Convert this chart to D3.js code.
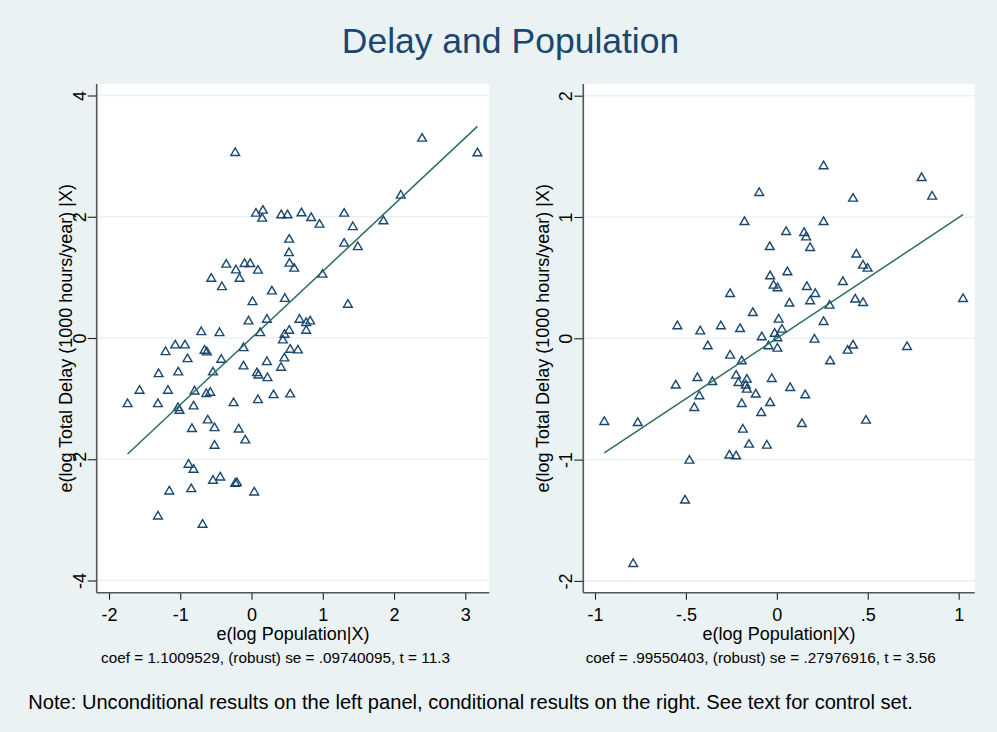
<!DOCTYPE html>
<html>
<head>
<meta charset="utf-8">
<script src="https://cdn.jsdelivr.net/npm/d3@7"></script>
<style>
  body { margin: 0; background: #eaf2f3; }
  svg text { font-family: "Liberation Sans", Arial, Helvetica, sans-serif; }
</style>
</head>
<body>
<svg id="chart" width="997" height="732"></svg>
<script>
// ---- Data: added-variable residuals, unconditional (left) and conditional (right) ----
const leftX = [
  -0.229, 0.062, 0.160, 0.150, 0.417, 0.505, 0.529, 0.526, 2.394, 3.170,
  2.095, 1.851, 0.701, 0.837, 0.954, 1.300, 1.422, 1.300, 1.492, -0.355,
  -0.219, -0.098, -0.018, 0.090, -0.565, -0.168, -0.415, 0.286, 0.014, 0.468,
  -0.042, 0.216, -0.705, -0.449, 0.122, 0.463, 0.440, -1.070, -0.934, -1.206,
  -0.112, -0.659, -0.626, -0.898, -0.425, 0.216, 0.461, -0.112, 0.414, -1.304,
  -1.028, -0.541, 0.076, 0.098, 0.224, -1.571, -1.173, -0.799, -0.635, -0.579,
  0.309, 0.543, -1.739, -1.313, -1.032, -1.010, -0.813, -0.252, 0.090, -0.614,
  -0.836, -0.519, -0.180, -0.088, -0.519, -0.884, -0.813, -1.154, -0.846, -0.541,
  -0.439, -0.229, -0.205, 0.038, -1.313, -0.687, 0.533, 0.599, 0.996, 1.352,
  0.673, 0.767, 0.823, 0.767, 0.529, 0.543, 0.651
];
const leftY = [
  3.073, 2.073, 2.122, 1.990, 2.045, 2.045, 1.644, 1.422, 3.310, 3.068,
  2.370, 1.946, 2.078, 2.000, 1.891, 2.073, 1.851, 1.578, 1.521, 1.231,
  1.137, 1.241, 1.241, 1.132, 1.000, 1.000, 0.861, 0.790, 0.614, 0.667,
  0.295, 0.323, 0.119, 0.102, 0.102, 0.076, -0.018, -0.101, -0.101, -0.211,
  -0.145, -0.188, -0.216, -0.327, -0.337, -0.376, -0.315, -0.447, -0.469, -0.574,
  -0.546, -0.546, -0.558, -0.596, -0.640, -0.848, -0.848, -0.860, -0.904, -0.881,
  -0.921, -0.909, -1.069, -1.069, -1.135, -1.178, -1.107, -1.053, -1.003, -1.338,
  -1.479, -1.465, -1.487, -1.668, -1.756, -2.069, -2.152, -2.510, -2.472, -2.333,
  -2.279, -2.383, -2.373, -2.526, -2.922, -3.059, 1.248, 1.165, 1.066, 0.571,
  0.323, 0.267, 0.295, 0.142, 0.142, -0.172, -0.183
];
const rightX = [
  -0.097, -0.178, -0.039, 0.257, 0.796, 0.854, 0.419, 0.257, 0.051, 0.150,
  0.161, 0.183, 0.437, -0.037, -0.018, 0.004, -0.257, -0.132, 0.010, -0.547,
  -0.421, -0.308, -0.202, -0.083, -0.012, 0.003, -0.046, 0.003, -0.380, -0.257,
  -0.193, -0.437, -0.355, -0.556, -0.224, -0.211, -0.165, -0.171, -0.165, -0.116,
  -0.028, -0.426, -0.454, -0.193, -0.037, -0.086, -0.949, -0.765, -0.187, -0.153,
  -0.055, -0.261, -0.224, -0.481, -0.505, -0.790, 0.474, 0.499, 0.058, 0.165,
  0.363, 0.211, 0.183, 0.069, 0.290, 0.431, 0.474, 1.024, 0.257, 0.028,
  0.207, 0.419, 0.389, 0.716, 0.293, 0.073, 0.156, 0.138, 0.490
];
const rightY = [
  1.209, 0.969, 0.763, 1.429, 1.332, 1.179, 1.162, 0.969, 0.887, 0.879,
  0.843, 0.755, 0.701, 0.522, 0.445, 0.423, 0.376, 0.219, 0.165, 0.110,
  0.068, 0.110, 0.087, 0.019, 0.048, 0.011, -0.055, -0.074, -0.055, -0.132,
  -0.179, -0.317, -0.350, -0.379, -0.297, -0.358, -0.330, -0.379, -0.412, -0.453,
  -0.325, -0.467, -0.564, -0.531, -0.523, -0.605, -0.679, -0.688, -0.742, -0.866,
  -0.874, -0.956, -0.962, -0.998, -1.327, -1.850, 0.610, 0.585, 0.555, 0.434,
  0.475, 0.376, 0.316, 0.297, 0.280, 0.330, 0.302, 0.335, 0.145, 0.082,
  0.000, -0.049, -0.091, -0.061, -0.179, -0.399, -0.459, -0.696, -0.668
];

// Tick values
const leftXTicks = [-2, -1, 0, 1, 2, 3];
const leftYTicks = [-4, -2, 0, 2, 4];
const rightXTicks = [-1, -0.5, 0, 0.5, 1];
const rightYTicks = [-2, -1, 0, 1, 2];

// Fitted slopes (the residuals are centred, so each fit runs through the origin)
const leftCoef = 1.1009529;
const rightCoef = 0.99550403;

// Text
const titleText = "Delay and Population";
const xTitle = "e(log Population|X)";
const yTitle = "e(log Total Delay (1000 hours/year) |X)";
const leftStats = "coef = 1.1009529, (robust) se = .09740095, t = 11.3";
const rightStats = "coef = .99550403, (robust) se = .27976916, t = 3.56";
const footNote = "Note: Unconditional results on the left panel, conditional results on the right. See text for control set.";

// ---- Styles ----
const BG = "#eaf2f3";
const NAVY = "#1a476f";
const FIT = "#2c6e5f";
const AXIS = "#555555";

// Stata-style numbers: hyphen minus, no leading zero
const fmt = d => String(d).replace(/^(-?)0\./, "$1.");

const svg = d3.select("#chart");
svg.append("rect").attr("width", 997).attr("height", 732).attr("fill", BG);

svg.append("text")
  .attr("x", 510.5).attr("y", 53)
  .attr("text-anchor", "middle")
  .attr("font-size", 35.5)
  .attr("fill", NAVY)
  .text(titleText);

const panels = [
  { xs: leftX, ys: leftY, xTicks: leftXTicks, yTicks: leftYTicks, coef: leftCoef, stats: leftStats,
    box: { x0: 96.7, y0: 84, x1: 489.3, y1: 592.7 },
    xRange: [109, 465.3], yRange: [580.5, 95.5], yTitleX: 71.5, statsX: 275.5 },
  { xs: rightX, ys: rightY, xTicks: rightXTicks, yTicks: rightYTicks, coef: rightCoef, stats: rightStats,
    box: { x0: 583.3, y0: 84, x1: 974.7, y1: 592.7 },
    xRange: [595, 958.7], yRange: [580.9, 95.7], yTitleX: 549, statsX: 760.7 }
];

// Hollow triangle centred on its bounding box
const triW = 8.8, triH = 7.6;
const triPath = `M0,${-triH / 2}L${triW / 2},${triH / 2}L${-triW / 2},${triH / 2}Z`;

panels.forEach(p => {
  const b = p.box;
  const x = d3.scaleLinear().domain(d3.extent(p.xTicks)).range(p.xRange);
  const y = d3.scaleLinear().domain(d3.extent(p.yTicks)).range(p.yRange);
  const g = svg.append("g");

  // plot region
  g.append("rect")
    .attr("x", b.x0).attr("y", b.y0)
    .attr("width", b.x1 - b.x0).attr("height", b.y1 - b.y0)
    .attr("fill", "#ffffff");

  // horizontal gridlines
  g.append("g").selectAll("line").data(p.yTicks).join("line")
    .attr("x1", b.x0).attr("x2", b.x1)
    .attr("y1", d => y(d)).attr("y2", d => y(d))
    .attr("stroke", BG).attr("stroke-width", 1.6);

  // x axis
  const xAxis = g.append("g")
    .attr("transform", `translate(0,${b.y1})`)
    .call(d3.axisBottom(x).tickValues(p.xTicks).tickFormat(fmt)
      .tickSize(7).tickSizeOuter(0).tickPadding(8.5));
  xAxis.select(".domain").remove();
  xAxis.selectAll("line").attr("stroke", "#222").attr("stroke-width", 1.1);
  xAxis.selectAll("text").attr("font-size", 18).attr("fill", "#000")
    .attr("font-family", "Liberation Sans, Arial, sans-serif");

  // y axis, labels turned vertical
  const yAxis = g.append("g")
    .attr("transform", `translate(${b.x0},0)`)
    .call(d3.axisLeft(y).tickValues(p.yTicks).tickFormat(fmt)
      .tickSize(9).tickSizeOuter(0));
  yAxis.select(".domain").remove();
  yAxis.selectAll("line").attr("stroke", "#222").attr("stroke-width", 1.1);
  yAxis.selectAll("text")
    .attr("font-size", 18).attr("fill", "#000")
    .attr("font-family", "Liberation Sans, Arial, sans-serif")
    .attr("transform", "rotate(-90)")
    .attr("x", 0).attr("y", -11).attr("dy", 0)
    .attr("text-anchor", "middle");

  // axis lines along the plot region edges
  g.append("line").attr("x1", b.x0).attr("x2", b.x0).attr("y1", b.y0).attr("y2", b.y1)
    .attr("stroke", AXIS).attr("stroke-width", 1.6);
  g.append("line").attr("x1", b.x0).attr("x2", b.x1).attr("y1", b.y1).attr("y2", b.y1)
    .attr("stroke", AXIS).attr("stroke-width", 1.6);

  // scatter of residuals
  const pts = p.xs.map((v, i) => [v, p.ys[i]]);
  g.append("g").selectAll("path").data(pts).join("path")
    .attr("d", triPath)
    .attr("transform", d => `translate(${x(d[0])},${y(d[1])})`)
    .attr("fill", "none")
    .attr("stroke", NAVY)
    .attr("stroke-width", 1.4);

  // fitted line over the observed range
  const ext = d3.extent(p.xs);
  g.append("path")
    .datum(ext.map(v => [v, p.coef * v]))
    .attr("d", d3.line().x(d => x(d[0])).y(d => y(d[1])))
    .attr("fill", "none")
    .attr("stroke", FIT)
    .attr("stroke-width", 1.5);

  // axis titles
  g.append("text")
    .attr("x", (b.x0 + b.x1) / 2).attr("y", 639.5)
    .attr("text-anchor", "middle").attr("font-size", 18).attr("fill", "#000")
    .text(xTitle);
  g.append("text")
    .attr("transform", `translate(${p.yTitleX},${(b.y0 + b.y1) / 2}) rotate(-90)`)
    .attr("text-anchor", "middle").attr("font-size", 18).attr("fill", "#000")
    .text(yTitle);

  // regression summary
  g.append("text")
    .attr("x", p.statsX).attr("y", 663)
    .attr("text-anchor", "middle").attr("font-size", 15.3).attr("fill", "#000")
    .text(p.stats);
});

svg.append("text")
  .attr("x", 28.3).attr("y", 709)
  .attr("font-size", 20.1).attr("fill", "#000")
  .text(footNote);
</script>
</body>
</html>
